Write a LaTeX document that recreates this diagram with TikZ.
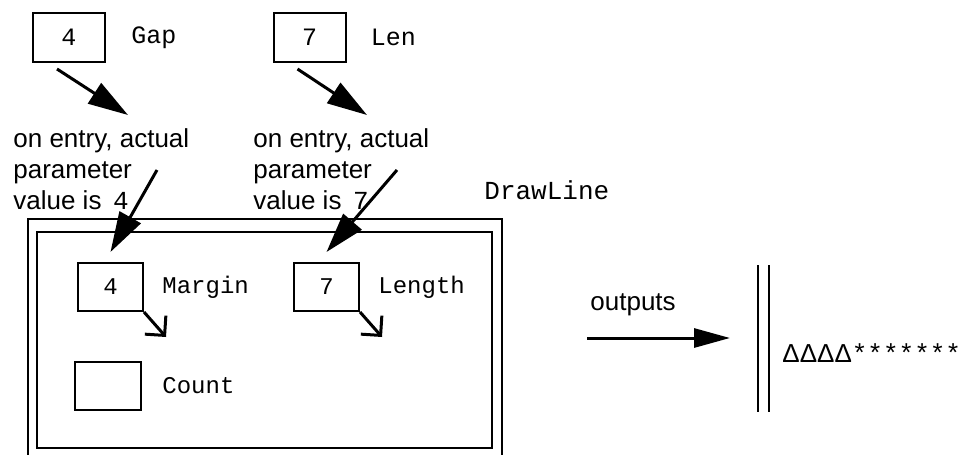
\documentclass[tikz,border=0pt]{standalone}
\usepackage{fontspec}
\setmainfont{Liberation Sans}
\setmonofont{Liberation Mono}
\usetikzlibrary{positioning, arrows.meta}

\begin{document}
\begin{tikzpicture}[
			x=0.5pt, y=-0.5pt,
			cell/.style={rectangle, draw, line width=1pt, minimum width=36pt, minimum height=24.5pt, inner sep=0pt, font=\ttfamily\fontsize{12.5}{14}\selectfont},
			slot/.style={cell, minimum width=32.5pt, minimum height=24pt, font=\ttfamily\fontsize{12}{14}\selectfont},
			varname/.style={inner sep=0pt, font=\ttfamily\fontsize{12}{14}\selectfont},
			note/.style={inner sep=0pt, align=left, font=\fontsize{13}{15.5}\selectfont},
			bigarrow/.style={line width=1.5pt, -{Triangle[length=20pt, width=12pt]}},
			outarrow/.style={line width=1.5pt, -{Triangle[length=18pt, width=9.5pt]}},
			copyarrow/.style={line width=1.5pt, -{Straight Barb[length=7pt, width=14pt]}}
			]
			\useasboundingbox (0,0) rectangle (959,455);
			
			% Actual parameters
			\node[cell] (gapbox) at (69,37.5) {4};
			\node[varname, font=\ttfamily\fontsize{12.5}{14}\selectfont, right=12.5pt of gapbox] (gapname) {Gap};
			\node[cell] (lenbox) at (309.5,37.5) {7};
			\node[varname, font=\ttfamily\fontsize{12.5}{14}\selectfont, right=12pt of lenbox] (lenname) {Len};
			
			\node[note, anchor=north west] (gapnote) at (13,128) {on entry, actual\\parameter\\value is \texttt{\,4}};
			\node[note, anchor=north west] (lennote) at (253,128) {on entry, actual\\parameter\\value is \texttt{\,7}};
			
			% Procedure frame
			\draw[line width=1pt] (28,455) |- (502,219) -- (502,455);
			\node[draw, line width=1.2pt, minimum width=227.5pt, minimum height=108pt] (frame) at (264.5,340) {};
			\node[varname, font=\ttfamily\fontsize{13}{15}\selectfont, anchor=west] (procname) at (484,190) {DrawLine};
			
			% Formal parameters and local
			\node[slot] (marginbox) at (110.5,287) {4};
			\node[varname, right=9pt of marginbox] (marginname) {Margin};
			\node[slot] (lengthbox) at (326.5,287) {7};
			\node[varname, right=9pt of lengthbox] (lengthname) {Length};
			\node[slot, minimum width=33pt] (countbox) at (108,386) {};
			\node[varname, right=10pt of countbox] (countname) {Count};
			
			\coordinate (margincopy) at ([xshift=11pt,yshift=-12.5pt]marginbox.south east);
			\coordinate (lengthcopy) at ([xshift=11pt,yshift=-12.5pt]lengthbox.south east);
			
			% Arrows
			\draw[bigarrow] ([xshift=-6pt,yshift=-3pt]gapbox.south) -- ([xshift=57.5pt,yshift=6.5pt]gapnote.north west);
			\draw[bigarrow] ([xshift=-6pt,yshift=-3pt]lenbox.south) -- ([xshift=57pt,yshift=6.5pt]lennote.north west);
			\draw[bigarrow] ([xshift=72pt,yshift=-21pt]gapnote.north west) -- ([yshift=5pt]marginbox.north);
			\draw[bigarrow] ([xshift=72pt,yshift=-21pt]lennote.north west) -- ([yshift=5pt]lengthbox.north);
			\draw[copyarrow] (marginbox.south east) -- (margincopy);
			\draw[copyarrow] (lengthbox.south east) -- (lengthcopy);
			
			% Output to the screen
			\coordinate (outfrom) at (587,338);
			\coordinate (outto) at (730,338);
			\node[note, anchor=south west] (outlabel) at ([xshift=1.5pt,yshift=11pt]outfrom) {outputs};
			\draw[outarrow] (outfrom) -- (outto);
			
			\draw[line width=1pt] (758,265) -- (758,412);
			\draw[line width=1pt] (769,265) -- (769,412);
			\node[varname, font=\ttfamily\fontsize{13}{15}\selectfont, anchor=west] (result) at (782,353) {\rmfamily ΔΔΔΔ\ttfamily*******};
			
		\end{tikzpicture}
\end{document}
